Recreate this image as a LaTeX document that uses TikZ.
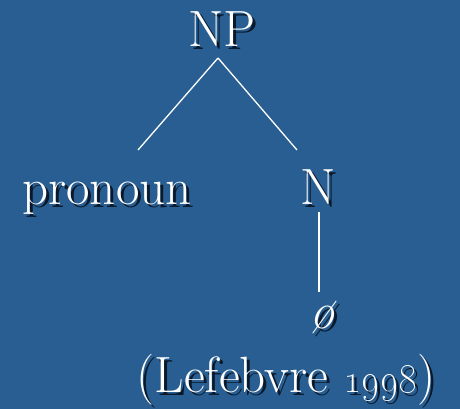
\documentclass[tikz,border=0pt]{standalone}
\definecolor{slideblue}{RGB}{40,94,145}
\definecolor{shade}{RGB}{10,24,42}

% white words on the slide, each with a dark offset copy behind it
\newcommand\shadowed[1]{\makebox[0pt][l]{\hspace{3pt}\raisebox{-3pt}{\color{shade}#1}}#1}

\tikzset{
  word/.style={text=white, font=\fontsize{51}{55}\selectfont, inner sep=0pt, anchor=base},
  branch/.style={white, line width=1.3pt}
}

\begin{document}
\begin{tikzpicture}[x=1pt, y=1pt]
\fill[slideblue] (0,0) rectangle (460,409);
\useasboundingbox (0,0) rectangle (460,409);

% tree
\node[word] (np) at (222,362) {\shadowed{NP}};
\node[word] (pron) at (107,204) {\shadowed{pronoun}};
\node[word] (n) at (318,204) {\shadowed{N}};
\node[word] (empty) at (323,80) {\shadowed{\textit{ø}}};

\coordinate (np-foot) at (218,351);
\coordinate (pron-top) at (138,259);
\coordinate (n-top) at (297,259);
\coordinate (n-foot) at (319,197);
\coordinate (empty-top) at (319,117);

\draw[branch] (np-foot) -- (pron-top);
\draw[branch] (np-foot) -- (n-top);
\draw[branch] (n-foot) -- (empty-top);

% source
\node[word] (src) at (286,16) {\shadowed{(Lefebvre \scalebox{1.15}{\oldstylenums{1998}})}};
\end{tikzpicture}
\end{document}
